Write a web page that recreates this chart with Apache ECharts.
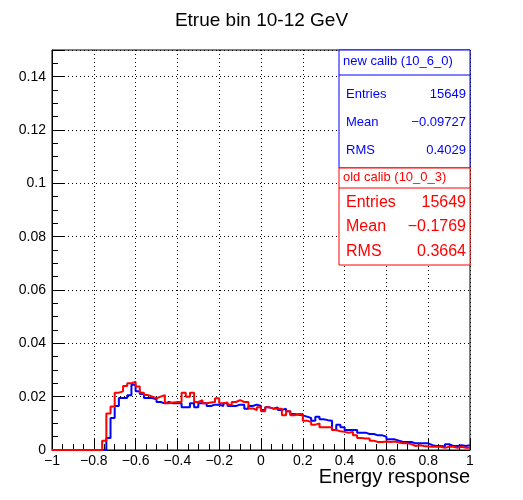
<!DOCTYPE html>
<html><head><meta charset="utf-8">
<script src="https://cdn.jsdelivr.net/npm/echarts@6/dist/echarts.min.js"></script>
<style>html,body{margin:0;background:#fff}#main{width:523px;height:500px}</style>
</head><body><div id="main"></div>
<script>
// 100 bins of width 0.02 from -1 to 1
const binLo = -1, binW = 0.02;
const zeros12 = new Array(12).fill(0);
const redVals = zeros12.concat([0.0035,0.0137,0.0163,0.0215,0.022,0.024,0.025,0.0256,0.0238,0.0215,
  0.0206,0.02,0.0194,0.02,0.0206,0.0175,0.0178,0.018,0.018,0.0215,0.02,0.0215,0.018,0.0187,0.0175,
  0.0178,0.018,0.0194,0.0175,0.0178,0.017,0.018,0.0187,0.018,0.018,0.0156,0.015,0.016,0.0145,0.016,
  0.0155,0.0155,0.0155,0.013,0.0145,0.013,0.0135,0.0135,0.011,0.0105,0.0095,0.01,0.0085,0.0085,0.0085,
  0.0075,0.007,0.0068,0.0065,0.0068,0.0055,0.0045,0.0043,0.0043,0.0035,0.003,0.003,0.0032,0.003,0.0032,
  0.0028,0.0025,0.0025,0.0022,0.0015,0.0018,0.0015,0.0013,0.0012,0.0012,0.0012,0.0008,0.0012,0.0012,
  0.0008,0.0012,0.0008,0.0008]);
const blueVals = zeros12.concat([0,0.0045,0.012,0.0165,0.0195,0.0195,0.0205,0.0245,0.022,0.021,
  0.0195,0.0195,0.019,0.018,0.0175,0.018,0.0175,0.0175,0.0175,0.016,0.016,0.0175,0.016,0.0175,0.0175,
  0.0165,0.017,0.017,0.0165,0.0175,0.0165,0.0165,0.017,0.017,0.0155,0.0165,0.017,0.0165,0.015,0.016,
  0.0155,0.016,0.015,0.0155,0.0145,0.0135,0.0132,0.013,0.0125,0.012,0.011,0.0125,0.0115,0.0112,0.011,
  0.0075,0.0095,0.0085,0.0075,0.0075,0.0075,0.0065,0.0065,0.006,0.006,0.0055,0.0055,0.005,0.004,0.004,
  0.0035,0.003,0.003,0.003,0.0025,0.0025,0.0025,0.0025,0.0018,0.0015,0.0015,0.0013,0.0022,0.0015,
  0.0015,0.0018,0.0015,0.0018]);
const yTickLabels = ['0','0.02','0.04','0.06','0.08','0.1','0.12','0.14'];

function steps(vals) {
  const pts = [];
  vals.forEach((v, i) => {
    const lo = +(binLo + i * binW).toFixed(4);
    pts.push([lo, v], [+(lo + binW).toFixed(4), v]);
  });
  return pts;
}

const chart = echarts.init(document.getElementById('main'));
const font = 'Liberation Sans, Arial, sans-serif';
const gridLine = { show: true, lineStyle: { color: '#000', type: [1, 3], width: 1 } };
chart.setOption({
  animation: false,
  title: { text: 'Etrue bin 10-12 GeV', left: 'center', top: 6,
    textStyle: { fontFamily: font, fontWeight: 'normal', fontSize: 19, color: '#000' } },
  grid: { left: 52, right: 53, top: 50, bottom: 50, outerBoundsMode: 'none', containLabel: false,
    show: true, borderColor: '#000', borderWidth: 1 },
  xAxis: {
    type: 'value', min: -1, max: 1, interval: 0.2,
    axisLine: { onZero: false, lineStyle: { color: '#000' } },
    axisTick: { inside: true, length: 12, lineStyle: { color: '#000' } },
    minorTick: { show: true, splitNumber: 4, length: 6, lineStyle: { color: '#000' } },
    axisLabel: { fontFamily: font, fontSize: 14, color: '#000', margin: 4,
      formatter: v => String(+v.toFixed(1)).replace('-', '\u2212') },
    splitLine: gridLine
  },
  yAxis: {
    type: 'value', min: 0, max: 0.15, interval: 0.02,
    axisLine: { show: true, onZero: false, lineStyle: { color: '#000' } },
    axisTick: { inside: true, length: 12, lineStyle: { color: '#000' } },
    minorTick: { show: true, splitNumber: 4, length: 6, lineStyle: { color: '#000' } },
    axisLabel: { fontFamily: font, fontSize: 14, color: '#000', margin: 6,
      formatter: v => yTickLabels[Math.round(v / 0.02)] || '' },
    splitLine: gridLine
  },
  series: [
    { type: 'line', data: steps(blueVals), symbol: 'none', lineStyle: { color: '#0000ff', width: 2 }, z: 2 },
    { type: 'line', data: steps(redVals), symbol: 'none', lineStyle: { color: '#ff0000', width: 2 }, z: 3 }
  ],
  graphic: [
    { type: 'text', right: 53, top: 467, style: { text: 'Energy response', fill: '#000', font: '20px ' + font } },
    { type: 'rect', shape: { x: 339, y: 50, width: 131, height: 118 }, style: { fill: '#fff', stroke: '#0000ff', lineWidth: 1 }, z: 10 },
    { type: 'line', shape: { x1: 339, y1: 75, x2: 470, y2: 75 }, style: { stroke: '#0000ff' }, z: 11 },
    { type: 'text', left: 343, top: 55, style: { text: 'new calib (10_6_0)', fill: '#0000ff', font: '13px ' + font }, z: 11 },
    { type: 'text', left: 346, top: 88, style: { text: 'Entries', fill: '#0000ff', font: '13px ' + font }, z: 11 },
    { type: 'text', right: 57, top: 88, style: { text: '15649', fill: '#0000ff', font: '13px ' + font }, z: 11 },
    { type: 'text', left: 346, top: 116, style: { text: 'Mean', fill: '#0000ff', font: '13px ' + font }, z: 11 },
    { type: 'text', right: 57, top: 116, style: { text: '\u22120.09727', fill: '#0000ff', font: '13px ' + font }, z: 11 },
    { type: 'text', left: 346, top: 144, style: { text: 'RMS', fill: '#0000ff', font: '13px ' + font }, z: 11 },
    { type: 'text', right: 57, top: 144, style: { text: '0.4029', fill: '#0000ff', font: '13px ' + font }, z: 11 },
    { type: 'rect', shape: { x: 339, y: 168, width: 131, height: 97 }, style: { fill: '#fff', stroke: '#ff0000', lineWidth: 1 }, z: 10 },
    { type: 'line', shape: { x1: 339, y1: 188, x2: 470, y2: 188 }, style: { stroke: '#ff0000' }, z: 11 },
    { type: 'text', left: 343, top: 171, style: { text: 'old calib (10_0_3)', fill: '#ff0000', font: '13px ' + font }, z: 11 },
    { type: 'text', left: 346, top: 195, style: { text: 'Entries', fill: '#ff0000', font: '16px ' + font }, z: 11 },
    { type: 'text', right: 57, top: 195, style: { text: '15649', fill: '#ff0000', font: '16px ' + font }, z: 11 },
    { type: 'text', left: 346, top: 219, style: { text: 'Mean', fill: '#ff0000', font: '16px ' + font }, z: 11 },
    { type: 'text', right: 57, top: 219, style: { text: '\u22120.1769', fill: '#ff0000', font: '16px ' + font }, z: 11 },
    { type: 'text', left: 346, top: 244, style: { text: 'RMS', fill: '#ff0000', font: '16px ' + font }, z: 11 },
    { type: 'text', right: 57, top: 244, style: { text: '0.3664', fill: '#ff0000', font: '16px ' + font }, z: 11 }
  ]
});
</script></body></html>
